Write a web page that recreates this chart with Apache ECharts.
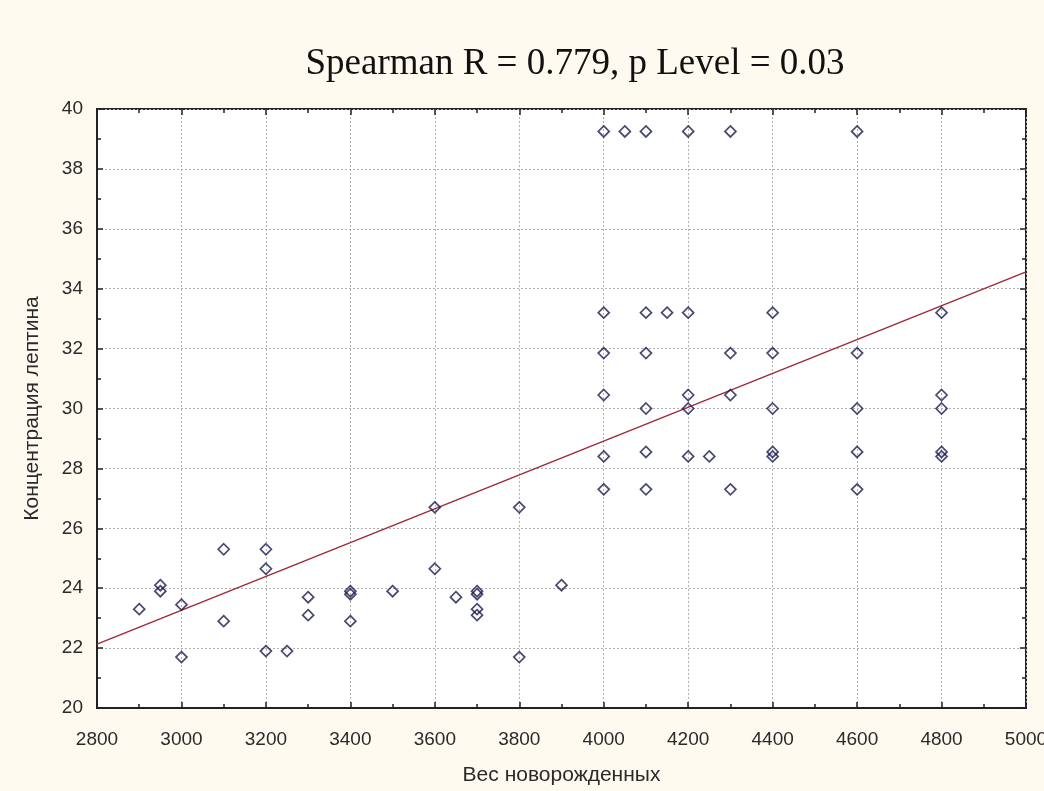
<!DOCTYPE html>
<html>
<head>
<meta charset="utf-8">
<script src="https://cdn.jsdelivr.net/npm/echarts@6/dist/echarts.min.js"></script>
<style>
html,body{margin:0;padding:0;background:#fefaf0;}
#chart{width:1044px;height:791px;}
</style>
</head>
<body>
<div id="chart"></div>
<script>
// Birth weight (g)
const weights = [
  2900, 2950, 2950, 3000, 3000, 3100, 3100, 3200, 3200, 3200, 3250, 3300, 3300,
  3400, 3400, 3400, 3500, 3600, 3600, 3650, 3700, 3700, 3700, 3700, 3800, 3800, 3900,
  4000, 4000, 4000, 4000, 4000, 4000, 4050,
  4100, 4100, 4100, 4100, 4100, 4100, 4150,
  4200, 4200, 4200, 4200, 4200, 4250,
  4300, 4300, 4300, 4300,
  4400, 4400, 4400, 4400, 4400,
  4600, 4600, 4600, 4600, 4600,
  4800, 4800, 4800, 4800, 4800
];
// Leptin concentration
const leptin = [
  23.3, 24.1, 23.9, 23.45, 21.7, 25.3, 22.9, 25.3, 24.65, 21.9, 21.9, 23.7, 23.1,
  23.9, 23.8, 22.9, 23.9, 26.7, 24.65, 23.7, 23.9, 23.8, 23.3, 23.1, 26.7, 21.7, 24.1,
  39.25, 33.2, 31.85, 30.45, 28.4, 27.3, 39.25,
  39.25, 33.2, 31.85, 30.0, 28.55, 27.3, 33.2,
  39.25, 33.2, 30.45, 30.0, 28.4, 28.4,
  39.25, 31.85, 30.45, 27.3,
  33.2, 31.85, 30.0, 28.55, 28.4,
  39.25, 31.85, 30.0, 28.55, 27.3,
  33.2, 30.45, 30.0, 28.55, 28.4
];
// Fitted line end points
const fitX = [2800, 5000];
const fitY = [22.13, 34.56];

const titleText = 'Spearman R = 0.779, p Level = 0.03';
const xName = 'Вес новорожденных';
const yName = 'Концентрация лептина';

const points = weights.map((w, i) => [w, leptin[i]]);
const fitLine = fitX.map((x, i) => [x, fitY[i]]);

const labelFont = {fontFamily: 'Liberation Sans, Arial, sans-serif', fontSize: 19, color: '#2a2a2a'};
const nameFont = {fontFamily: 'Liberation Sans, Arial, sans-serif', fontSize: 21, color: '#2a2a2a'};
const gridLine = {show: true, lineStyle: {color: '#b0b0b0', type: [2, 2], width: 1}};
const plain = v => String(v);

const chart = echarts.init(document.getElementById('chart'), null, {renderer: 'canvas'});
chart.setOption({
  backgroundColor: '#fefaf0',
  animation: false,
  title: {
    text: titleText,
    left: 570, top: 41, textAlign: 'center',
    textStyle: {fontFamily: 'Liberation Serif, Times New Roman, serif', fontSize: 37, fontWeight: 'normal', color: '#111'}
  },
  grid: {
    left: 97, top: 109, right: 18, bottom: 83,
    show: true, backgroundColor: '#ffffff', borderColor: '#222', borderWidth: 2,
    containLabel: false, outerBoundsMode: 'none'
  },
  xAxis: [{
    type: 'value', min: 2800, max: 5000, interval: 200, position: 'bottom',
    axisLine: {show: true, onZero: false, lineStyle: {color: '#222', width: 2}},
    axisTick: {show: true, inside: true, length: 6, lineStyle: {color: '#222', width: 1.5}},
    minorTick: {show: true, splitNumber: 2, length: 4, lineStyle: {color: '#222', width: 1.5}},
    axisLabel: Object.assign({margin: 22, formatter: plain, showMaxLabel: true, showMinLabel: true, hideOverlap: false}, labelFont),
    splitLine: gridLine,
    name: xName, nameLocation: 'middle', nameGap: 57,
    nameTextStyle: nameFont
  }, {
    type: 'value', min: 2800, max: 5000, interval: 200, position: 'top',
    axisLine: {show: false},
    axisTick: {show: true, inside: true, length: 6, lineStyle: {color: '#222', width: 1.5}},
    minorTick: {show: true, splitNumber: 2, length: 4, lineStyle: {color: '#222', width: 1.5}},
    axisLabel: {show: false}, splitLine: {show: false}
  }],
  yAxis: [{
    type: 'value', min: 20, max: 40, interval: 2, position: 'left',
    axisLine: {show: true, onZero: false, lineStyle: {color: '#222', width: 2}},
    axisTick: {show: true, inside: true, length: 6, lineStyle: {color: '#222', width: 1.5}},
    minorTick: {show: true, splitNumber: 2, length: 4, lineStyle: {color: '#222', width: 1.5}},
    axisLabel: Object.assign({margin: 14, formatter: plain, showMaxLabel: true, showMinLabel: true}, labelFont),
    splitLine: gridLine,
    name: yName, nameLocation: 'middle', nameGap: 54,
    nameTextStyle: nameFont
  }, {
    type: 'value', min: 20, max: 40, interval: 2, position: 'right',
    axisLine: {show: false},
    axisTick: {show: true, inside: true, length: 6, lineStyle: {color: '#222', width: 1.5}},
    minorTick: {show: true, splitNumber: 2, length: 4, lineStyle: {color: '#222', width: 1.5}},
    axisLabel: {show: false}, splitLine: {show: false}
  }],
  series: [{
    type: 'line', xAxisIndex: 0, yAxisIndex: 0,
    data: fitLine, symbol: 'none', silent: true,
    lineStyle: {color: '#a0283a', width: 1.4},
    z: 2
  }, {
    type: 'scatter', xAxisIndex: 0, yAxisIndex: 0,
    data: points, symbol: 'diamond', symbolSize: [11, 11],
    itemStyle: {color: 'rgba(255,255,255,0)', borderColor: '#1a1a50', borderWidth: 1.7},
    z: 3
  }]
});
</script>
</body>
</html>
